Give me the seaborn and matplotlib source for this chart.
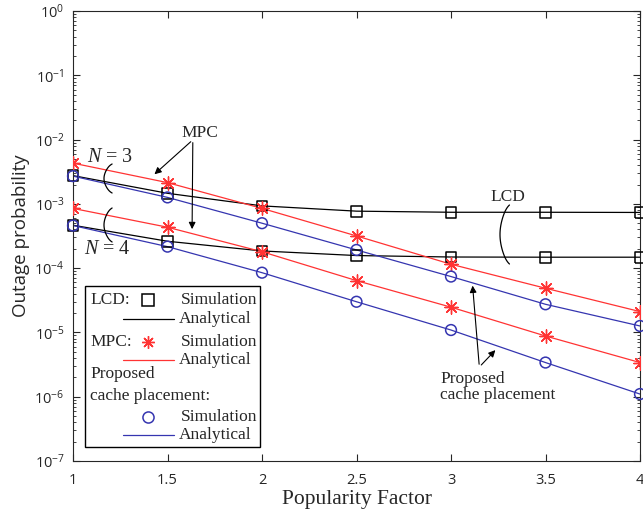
import numpy as np
import pandas as pd
import seaborn as sns
import matplotlib.pyplot as plt
from matplotlib.lines import Line2D
from matplotlib.patches import Rectangle

# popularity factor values
alpha = [1.0, 1.5, 2.0, 2.5, 3.0, 3.5, 4.0]

# outage probability
lcd_n3 = [2.75e-3, 1.46e-3, 9.3e-4, 7.7e-4, 7.4e-4, 7.4e-4, 7.35e-4]
lcd_n4 = [4.65e-4, 2.62e-4, 1.85e-4, 1.57e-4, 1.49e-4, 1.48e-4, 1.48e-4]
mpc_n3 = [4.3e-3, 2.14e-3, 8.5e-4, 3.17e-4, 1.15e-4, 4.87e-5, 2.11e-5]
mpc_n4 = [8.5e-4, 4.33e-4, 1.8e-4, 6.4e-5, 2.47e-5, 8.8e-6, 3.4e-6]
prop_n3 = [2.7e-3, 1.26e-3, 5.0e-4, 1.92e-4, 7.4e-5, 2.74e-5, 1.26e-5]
prop_n4 = [4.6e-4, 2.16e-4, 8.5e-5, 3.0e-5, 1.09e-5, 3.4e-6, 1.1e-6]

rows = []
for scheme, n, vals in [("LCD", 3, lcd_n3), ("LCD", 4, lcd_n4),
                        ("MPC", 3, mpc_n3), ("MPC", 4, mpc_n4),
                        ("Proposed", 3, prop_n3), ("Proposed", 4, prop_n4)]:
    for a, v in zip(alpha, vals):
        rows.append({"alpha": a, "pout": v, "scheme": scheme, "N": n,
                     "curve": f"{scheme}{n}"})
df = pd.DataFrame(rows)

sns.set_style("ticks")
plt.rcParams["font.family"] = ["Open Sans", "DejaVu Sans"]
plt.rcParams["mathtext.fontset"] = "custom"
plt.rcParams["mathtext.rm"] = "Open Sans"
plt.rcParams["mathtext.it"] = "Liberation Serif:italic"

colors = {"LCD": "black", "MPC": "#ff3333", "Proposed": "#3535b0"}
markers = {"LCD": "s", "MPC": (8, 2, 0), "Proposed": "o"}

W, H = 643, 516
fig = plt.figure(figsize=(W / 100, H / 100), dpi=100)
ax = fig.add_axes([73 / W, 1 - 461 / H, 567 / W, 450 / H])

for scheme in ["LCD", "MPC", "Proposed"]:
    sub = df[df["scheme"] == scheme]
    sns.lineplot(data=sub, x="alpha", y="pout", units="curve", estimator=None,
                 color=colors[scheme], lw=0.9, ax=ax, legend=False)
    for n in [3, 4]:
        s = sub[sub["N"] == n]
        if scheme == "MPC":
            ax.scatter(s["alpha"], s["pout"], marker=markers[scheme], s=90,
                       color=colors[scheme], linewidths=1.0, zorder=3)
        else:
            ax.scatter(s["alpha"], s["pout"], marker=markers[scheme], s=60,
                       facecolors="none", edgecolors=colors[scheme],
                       linewidths=1.1, zorder=3, clip_on=False)

ax.set_yscale("log")
ax.set_xlim(1, 4)
ax.set_ylim(1e-7, 1)
ax.set_xticks([1, 1.5, 2, 2.5, 3, 3.5, 4])
ax.set_xticklabels(["1", "1.5", "2", "2.5", "3", "3.5", "4"])
ax.set_yticks([10.0 ** k for k in range(-7, 1)])
ax.tick_params(which="both", direction="in", top=True, right=True,
               labelsize=10.5, colors="#262626")
ax.tick_params(axis="x", pad=9)
ax.tick_params(axis="y", pad=6)
ax.tick_params(which="major", length=5)
ax.tick_params(which="minor", length=2.5)
for sp in ax.spines.values():
    sp.set_color("#262626")
    sp.set_linewidth(0.8)

serif = ["Liberation Serif", "DejaVu Serif"]
ax.set_xlabel("Popularity Factor", family=serif, fontsize=15.5, labelpad=1)
ax.set_ylabel("Outage probability", fontsize=13.5, labelpad=3)

arrow = dict(arrowstyle="-|>", color="black", lw=0.8, mutation_scale=10)


def brace(x0, y0, x1, y1, w):
    # curly "(" shape drawn in pixel units, converted to axes fraction
    t = np.linspace(0, 1, 60)
    px = x1 - w * np.sin(np.pi * t) + 0.35 * w * (np.exp(-t / 0.06) + np.exp(-(1 - t) / 0.06))
    py = y0 + (y1 - y0) * t
    ax.plot((px - 73) / 567, (461 - py) / 450, color="black", lw=0.9,
            transform=ax.transAxes, solid_capstyle="round")


# MPC annotation
ax.text(1.67, 1.27e-2, "MPC", family=serif, fontsize=12.5, ha="center", va="center")
ax.annotate("", xy=(1.42, 2.7e-3), xytext=(1.634, 9.9e-3), arrowprops=arrow)
ax.annotate("", xy=(1.63, 3.66e-4), xytext=(1.634, 9.9e-3), arrowprops=arrow)

# N labels and braces
ax.text(1.195, 5.2e-3, r"$N$ = 3", family=serif, fontsize=14.5, ha="center", va="center")
ax.text(1.18, 1.92e-4, r"$N$ = 4", family=serif, fontsize=14.5, ha="center", va="center")
brace(0, 164, 110, 193, 6)
brace(0, 208, 110, 242, 6)

# LCD annotation
ax.text(3.30, 1.28e-3, "LCD", family=serif, fontsize=12.5, ha="center", va="center")
brace(0, 205, 507, 264, 7)

# proposed annotation
ax.text(2.944, 1.42e-6, "Proposed\ncache placement", family=serif, fontsize=12.5,
        ha="left", va="center", linespacing=1.0)
ax.annotate("", xy=(3.113, 5.9e-5), xytext=(3.15, 2.9e-6), arrowprops=arrow)
ax.annotate("", xy=(3.245, 5.7e-6), xytext=(3.15, 2.9e-6), arrowprops=arrow)

# hand-made legend box
tr = ax.transAxes
ax.add_patch(Rectangle((0.021, 0.031), 0.309, 0.358, transform=tr,
                       facecolor="white", edgecolor="black", lw=1.0, zorder=5))
lg = dict(family=serif, fontsize=12.5, va="center", transform=tr, zorder=6)
ax.text(0.030, 0.358, "LCD:", **lg)
ax.text(0.190, 0.358, "Simulation", **lg)
ax.text(0.187, 0.316, "Analytical", **lg)
ax.text(0.030, 0.264, "MPC:", **lg)
ax.text(0.190, 0.264, "Simulation", **lg)
ax.text(0.187, 0.224, "Analytical", **lg)
ax.text(0.030, 0.193, "Proposed", **lg)
ax.text(0.030, 0.144, "cache placement:", **lg)
ax.text(0.190, 0.098, "Simulation", **lg)
ax.text(0.187, 0.058, "Analytical", **lg)
for y, key in [(0.358, "LCD"), (0.264, "MPC"), (0.098, "Proposed")]:
    if key == "MPC":
        ax.add_line(Line2D([0.132], [y], marker=markers[key], ms=9, color=colors[key],
                           mew=1.0, ls="none", transform=tr, zorder=6))
    else:
        ax.add_line(Line2D([0.132], [y], marker=markers[key], ms=8, mfc="none",
                           mec=colors[key], mew=1.1, ls="none", transform=tr, zorder=6))
for y, key in [(0.316, "LCD"), (0.224, "MPC"), (0.058, "Proposed")]:
    ax.add_line(Line2D([0.088, 0.178], [y, y], color=colors[key], lw=0.9,
                       transform=tr, zorder=6))

fig.savefig("out.png", dpi=100)
